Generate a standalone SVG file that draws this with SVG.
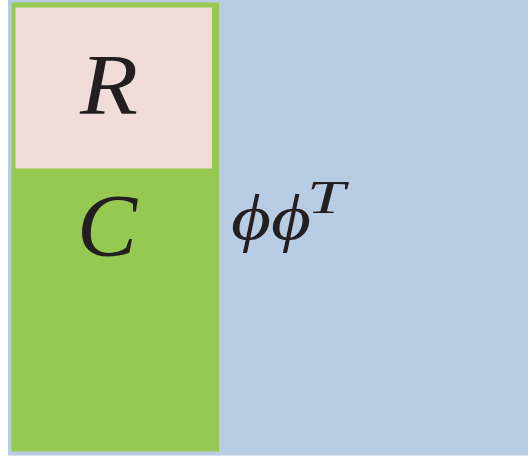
<svg xmlns="http://www.w3.org/2000/svg" width="528" height="457" viewBox="0 0 528 457">
<style>
.t{font-family:"Liberation Serif","DejaVu Serif",serif;font-style:italic;fill:#231f20}
</style>
<rect x="0" y="0" width="528" height="457" fill="#ffffff"/>
<g id="phiphiT">
<rect x="8" y="0" width="520" height="455.5" fill="#b8cce4"/>
<text class="t" x="231" y="239" font-size="64" textLength="80" lengthAdjust="spacingAndGlyphs">ϕϕ</text>
<text class="t" x="307" y="213" font-size="46" textLength="38" lengthAdjust="spacingAndGlyphs">T</text>
</g>
<g id="C">
<rect x="11.5" y="2.5" width="207.5" height="449" fill="#96c952"/>
<text class="t" x="77" y="255" font-size="88" textLength="60" lengthAdjust="spacingAndGlyphs">C</text>
</g>
<g id="R">
<rect x="15.5" y="7.5" width="196.5" height="161" fill="#f0dcd9"/>
<text class="t" x="80" y="114" font-size="86" textLength="58" lengthAdjust="spacingAndGlyphs">R</text>
</g>
<g id="connectors"/>
</svg>
